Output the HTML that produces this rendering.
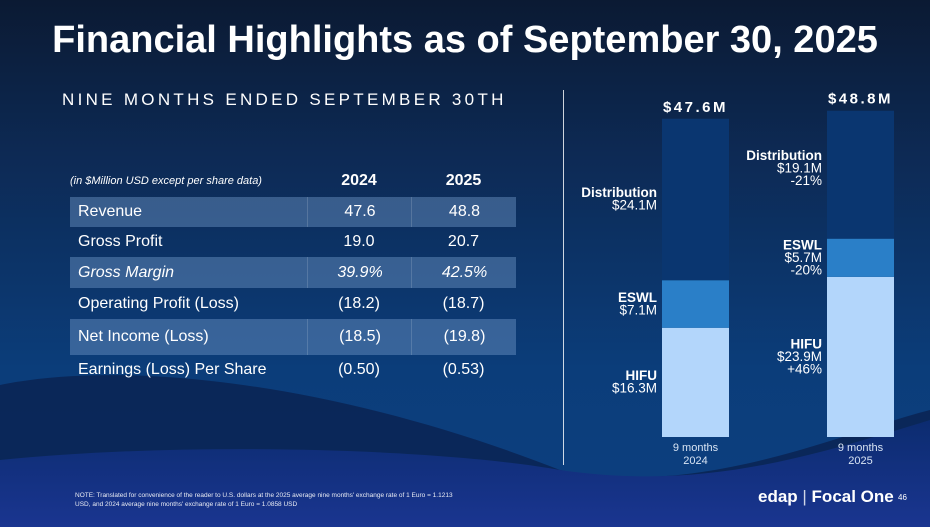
<!DOCTYPE html>
<html><head><meta charset="utf-8"><style>
body{margin:0;width:930px;height:527px;overflow:hidden;font-family:"Liberation Sans",sans-serif;}
#slide{position:relative;width:930px;height:527px;background:linear-gradient(180deg,#0b1a33 0%,#0d2a55 30%,#0b3d7a 70%,#0d3f80 100%);overflow:hidden;}
.t{position:absolute;color:#fff;white-space:nowrap;}
.row{position:absolute;left:70px;width:446px;height:30px;}
.sh{background:rgba(110,150,200,0.45);}
.cell{position:absolute;top:0;height:100%;display:flex;align-items:center;color:#fff;font-size:16px;}
</style></head><body>
<div id="slide">
<svg width="930" height="527" style="position:absolute;left:0;top:0">
<defs><linearGradient id="w" x1="0" y1="0" x2="0" y2="1"><stop offset="0" stop-color="#0c2c70"/><stop offset="1" stop-color="#1a3590"/></linearGradient></defs>
<path d="M0,385 C120,360 330,380 560,470 C700,500 850,430 930,410 L930,527 L0,527 Z" fill="#0a1e4a" opacity="0.7"/>
<path d="M0,460 C200,440 450,450 560,470 C700,490 800,460 930,420 L930,527 L0,527 Z" fill="url(#w)"/>
</svg>
<div class="t" style="left:0;width:930px;text-align:center;top:19px;font-size:38px;font-weight:bold;">Financial Highlights as of September 30, 2025</div>
<div class="t" style="left:62px;top:90px;font-size:17px;letter-spacing:3.3px;">NINE MONTHS ENDED SEPTEMBER 30TH</div>
<div style="position:absolute;left:563px;top:90px;width:1px;height:375px;background:#fff;opacity:.8"></div>

<div>
<div class="t" style="left:70px;top:175px;font-size:11px;font-style:italic;">(in $Million USD except per share data)</div>
<div class="t" style="left:307px;width:104px;text-align:center;top:172px;font-size:16px;font-weight:bold;">2024</div>
<div class="t" style="left:411px;width:105px;text-align:center;top:172px;font-size:16px;font-weight:bold;">2025</div>
<div id="rows"></div>
</div>

<svg id="chart" width="930" height="527" style="position:absolute;left:0;top:0"></svg>

<div class="t" style="left:75px;top:491px;font-size:6.5px;line-height:9px;opacity:.9">NOTE: Translated for convenience of the reader to U.S. dollars at the 2025 average nine months' exchange rate of 1 Euro = 1.1213<br>USD, and 2024 average nine months' exchange rate of 1 Euro = 1.0858 USD</div>
<div class="t" style="left:758px;top:487px;font-size:17px;font-weight:bold;">edap <span style="font-weight:normal;opacity:.8">|</span> Focal One</div>
<div class="t" style="left:898px;top:493px;font-size:8px;">46</div>
</div>
<script>
const rowLabels=["Revenue","Gross Profit","Gross Margin","Operating Profit (Loss)","Net Income (Loss)","Earnings (Loss) Per Share"];
const vals2024=["47.6","19.0","39.9%","(18.2)","(18.5)","(0.50)"];
const vals2025=["48.8","20.7","42.5%","(18.7)","(19.8)","(0.53)"];
const rowTops=[197,227,257,288,319,355];
const rc=document.getElementById('rows');
rowLabels.forEach((l,i)=>{
 const r=document.createElement('div');
 const sh=i%2==0&&i<5;
 r.className='row'+(sh?' sh':'');
 r.style.top=rowTops[i]+'px';
 r.style.height=(i==4?36:i==5?30:(rowTops[i+1]-rowTops[i]))+'px';
 
 
 const it=i==2?'font-style:italic;':'';
 const bd=sh?'border-left:1px solid rgba(255,255,255,.15);':'';
 r.innerHTML=`<div class="cell" style="left:8px;${it}">${l}</div><div class="cell" style="left:237px;width:104px;justify-content:center;${it}${bd}">${vals2024[i]}</div><div class="cell" style="left:341px;width:105px;justify-content:center;${it}${bd}">${vals2025[i]}</div>`;
 rc.appendChild(r);
});

const categories=["2024","2025"];
const hifu=[16.3,23.9];
const eswl=[7.1,5.7];
const distribution=[24.1,19.1];
const totals=["$47.6M","$48.8M"];
const hifuLabels=[["HIFU","$16.3M"],["HIFU","$23.9M","+46%"]];
const eswlLabels=[["ESWL","$7.1M"],["ESWL","$5.7M","-20%"]];
const distLabels=[["Distribution","$24.1M"],["Distribution","$19.1M","-21%"]];
const svg=document.getElementById('chart');
const NS='http://www.w3.org/2000/svg';
const y0=437,k=6.7;
const yS=v=>y0-v*k;
const xS=i=>662+i*165;
const bw=67;
function mk(tag,a){const e=document.createElementNS(NS,tag);for(const n in a)e.setAttribute(n,a[n]);svg.appendChild(e);return e;}
function lbl(lines,xr,ymid){
 const lh=12.5,start=ymid-(lines.length-1)*lh/2+4;
 lines.forEach((s,j)=>{const t=mk('text',{x:xr,y:start+j*lh,'text-anchor':'end','font-size':13.5,'font-weight':j==0?'bold':'normal',fill:'#fff','font-family':'Liberation Sans, sans-serif'});t.textContent=s;
 
 });
}
categories.forEach((c,i)=>{
 const x=xS(i);
 const segs=[[0,hifu[i],'#b3d6fb','bar-hifu-'+c],[hifu[i],hifu[i]+eswl[i],'#2a7fc8','bar-eswl-'+c],[hifu[i]+eswl[i],hifu[i]+eswl[i]+distribution[i],'#0a3670','bar-distribution-'+c]];
 segs.forEach(s=>{const r=mk('rect',{x:x,y:yS(s[1]),width:bw,height:yS(s[0])-yS(s[1]),fill:s[2]});
  
  });
 const tot=hifu[i]+eswl[i]+distribution[i];
 const tt=mk('text',{x:x+bw/2,y:yS(tot)-7,'text-anchor':'middle','font-size':15,'font-weight':'bold','letter-spacing':'2.5',fill:'#fff','font-family':'Liberation Sans, sans-serif'});
 tt.textContent=totals[i];
 
 
 const xr=x-5;
 lbl(hifuLabels[i],xr,yS(hifu[i]/2));
 lbl(eswlLabels[i],xr,yS(hifu[i]+eswl[i]/2));
 lbl(distLabels[i],xr,yS(hifu[i]+eswl[i]+distribution[i]*(i==0?0.5:0.55)));
 ['9 months',c].forEach((s,j)=>{const t=mk('text',{x:x+bw/2,y:451+j*13,'text-anchor':'middle','font-size':11,fill:'#d8e4f4','font-family':'Liberation Sans, sans-serif'});t.textContent=s;
  
  });
});
</script>
</body></html>
